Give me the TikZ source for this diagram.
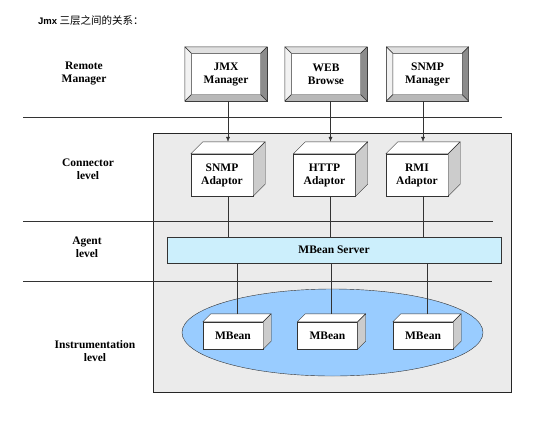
\documentclass[tikz,border=0pt]{standalone}
\usepackage{fontspec}
\setmainfont{Liberation Serif}
\newfontfamily\arialfont{Liberation Sans}
\newfontfamily\cjk{Noto Sans CJK SC}
\usetikzlibrary{shapes.geometric,arrows.meta,calc}
\begin{document}
\begin{tikzpicture}[x=1pt,y=-1pt]
        \tikzstyle{label}=[align=center,font=\bfseries\fontsize{11.5}{13}\selectfont]
        \tikzstyle{manager}=[rectangle,draw=black!80,fill=white,minimum width=82pt,minimum height=54pt,align=center,font=\bfseries\fontsize{11.5}{13}\selectfont]
        \tikzstyle{adaptor}=[rectangle,draw=black!80,fill=white,minimum width=62pt,minimum height=42pt,align=center,font=\bfseries\fontsize{11.5}{13}\selectfont]
        \tikzstyle{mbean}=[rectangle,draw=black!80,fill=white,minimum width=60pt,minimum height=27pt,font=\bfseries\fontsize{11.5}{13}\selectfont]
        \tikzstyle{face}=[draw=black!80,line join=round]
        \tikzstyle{layer}=[draw=black!80,line width=0.8pt]
        \tikzstyle{edge}=[draw=black!80,thin]
        \tikzstyle{arrow}=[edge,-{Latex[length=5pt,width=4pt]}]

        \useasboundingbox (0,0) rectangle (554,421);

        \node[anchor=west,inner sep=0pt] (title) at (38,21) {{\arialfont\bfseries\fontsize{9.5}{12}\selectfont Jmx} {\cjk\fontsize{10.5}{12}\selectfont 三层之间的关系：}};

        \node[rectangle,draw=black!85,fill=black!8,minimum width=358pt,minimum height=259pt,anchor=north west] (agentbox) at (153,133) {};

        \coordinate (l1a) at (23,117);
        \coordinate (l1b) at (502,117);
        \coordinate (l2a) at (23,221);
        \coordinate (l2b) at (493,221);
        \coordinate (l3a) at (23,281);
        \coordinate (l3b) at (492,281);
        \draw[layer] (l1a) -- (l1b);
        \draw[layer] (l2a) -- (l2b);
        \draw[layer] (l3a) -- (l3b);

        \node[label] (remote) at (84,73) {Remote\\Manager};
        \node[label] (connector) at (88,169) {Connector\\level};
        \node[label] (agent) at (87,247) {Agent\\level};
        \node[label] (instr) at (95,351) {Instrumentation\\level};

        \node[manager] (jmx) at (226,74) {JMX\\Manager};
        \node[manager] (web) at (326,74) {WEB\\Browse};
        \node[manager] (snmpm) at (427.5,74) {SNMP\\Manager};

        \foreach \n in {jmx,web,snmpm} {
                \coordinate (\n-a) at ($(\n.north west)+(6.5,6.5)$);
                \coordinate (\n-b) at ($(\n.north east)+(-6.5,6.5)$);
                \coordinate (\n-c) at ($(\n.south east)+(-6.5,-6.5)$);
                \coordinate (\n-d) at ($(\n.south west)+(6.5,-6.5)$);
                \filldraw[face,fill=black!12] (\n.north west) -- (\n.north east) -- (\n-b) -- (\n-a) -- cycle;
                \filldraw[face,fill=black!5] (\n.north west) -- (\n-a) -- (\n-d) -- (\n.south west) -- cycle;
                \filldraw[face,fill=black!45] (\n.north east) -- (\n.south east) -- (\n-c) -- (\n-b) -- cycle;
                \filldraw[face,fill=black!28] (\n.south west) -- (\n-d) -- (\n-c) -- (\n.south east) -- cycle;
        }

        \node[adaptor] (snmpA) at (222,175) {SNMP\\Adaptor};
        \node[adaptor] (httpA) at (324.5,175) {HTTP\\Adaptor};
        \node[adaptor] (rmiA) at (417,175) {RMI\\Adaptor};

        \node[rectangle,draw=black!80,fill=cyan!20,minimum width=334pt,minimum height=26pt,font=\bfseries\fontsize{11.5}{13}\selectfont] (server) at (334,250) {MBean Server};

        \node[ellipse,draw=black!80,fill={rgb,255:red,153;green,204;blue,255},minimum width=301pt,minimum height=87pt] (pool) at (332.5,332.5) {};

        \node[mbean] (mb1) at (233,335.5) {MBean};
        \node[mbean] (mb2) at (327.5,335.5) {MBean};
        \node[mbean] (mb3) at (423,335.5) {MBean};

        \foreach \n/\d in {snmpA/12,httpA/12,rmiA/12,mb1/8,mb2/8,mb3/8} {
                \filldraw[face,fill=white] (\n.north west) -- ++(\d,-\d) -- ($(\n.north east)+(\d,-\d)$) -- (\n.north east) -- cycle;
                \filldraw[face,fill=black!20] (\n.north east) -- ($(\n.north east)+(\d,-\d)$) -- ($(\n.south east)+(\d,-\d)$) -- (\n.south east) -- cycle;
                \coordinate (\n-t) at ($(\n.north)+(0.5*\d,-\d)$);
        }

        \draw[arrow] (jmx.south -| snmpA-t) -- (snmpA-t);
        \draw[arrow] (web.south -| httpA-t) -- (httpA-t);
        \draw[arrow] (snmpm.south -| rmiA-t) -- (rmiA-t);

        \draw[edge] (snmpA.south -| snmpA-t) -- (server.north -| snmpA-t);
        \draw[edge] (httpA.south -| httpA-t) -- (server.north -| httpA-t);
        \draw[edge] (rmiA.south -| rmiA-t) -- (server.north -| rmiA-t);

        \draw[edge] (server.south -| mb1-t) -- (mb1-t);
        \draw[edge] (server.south -| mb2-t) -- (mb2-t);
        \draw[edge] (server.south -| mb3-t) -- (mb3-t);
\end{tikzpicture}
\end{document}
